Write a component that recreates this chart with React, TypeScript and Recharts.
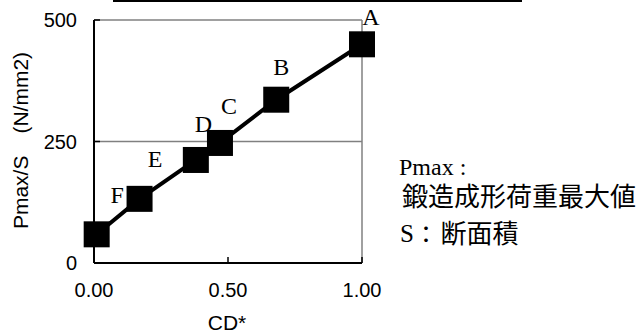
import React from "react";
import { LineChart, Line, XAxis, YAxis, CartesianGrid, ReferenceLine, LabelList } from "recharts";

// CD* (x) values
const cdValues = [0.01, 0.17, 0.38, 0.47, 0.68, 1.0];
// Pmax/S (N/mm2)
const pmaxPerS = [59, 132, 212, 247, 336, 450];
// point names
const pointNames = ["F", "E", "D", "C", "B", "A"];
const xTicks = [0, 0.5, 1];
const yTicks = [0, 250, 500];

const data = cdValues.map((cd, i) => ({ cd, value: pmaxPerS[i], name: pointNames[i] }));

// label offsets (styling)
const LABEL_SHIFT: Record<string, [number, number]> = {
  F: [20.5, -39.5],
  E: [15.5, -39.5],
  D: [7.5, -35.5],
  C: [9, -37],
  B: [5, -33],
  A: [9, -27],
};

const SANS = "'Liberation Sans', Arial, sans-serif";
const SERIF = "'Liberation Serif', 'Times New Roman', serif";
const CJK = "'Noto Sans CJK JP', 'Noto Sans CJK SC', sans-serif";

const SquareDot = (props: any) => {
  const { cx, cy, index } = props;
  if (cx == null || cy == null) return null;
  return <rect key={`sq-${index}`} x={cx - 13} y={cy - 13} width={26} height={26} fill="#000" />;
};

const renderLabel = (props: any) => {
  const { x, y, value, index } = props;
  const [dx, dy] = LABEL_SHIFT[value] || [0, 0];
  return (
    <text
      key={`lb-${index}`}
      x={x + dx}
      y={y + dy + 8}
      textAnchor="middle"
      fontFamily={SERIF}
      fontSize={24}
      fill="#000"
    >
      {value}
    </text>
  );
};

export default function App() {
  return (
    <div style={{ position: "absolute", left: 0, top: 0, width: 636, height: 334, background: "#fff" }}>
      <LineChart
        width={636}
        height={334}
        data={data}
        margin={{ top: 20, right: 274, bottom: 0, left: 0 }}
      >
        <CartesianGrid vertical={false} stroke="#808080" strokeWidth={1.5} />
        <ReferenceLine x={1} stroke="#808080" strokeWidth={1.5} />
        <XAxis
          type="number"
          dataKey="cd"
          domain={[0, 1]}
          ticks={xTicks}
          interval={0}
          tickFormatter={(v: number) => v.toFixed(2)}
          height={71}
          axisLine={{ stroke: "#000", strokeWidth: 2 }}
          tickLine={{ stroke: "#000", strokeWidth: 1.5 }}
          tickSize={-6}
          tickMargin={26}
          tick={{ fill: "#000", fontSize: 20, fontFamily: SANS }}
        />
        <YAxis
          type="number"
          domain={[0, 500]}
          ticks={yTicks}
          interval={0}
          width={94}
          axisLine={{ stroke: "#000", strokeWidth: 2 }}
          tickLine={{ stroke: "#000", strokeWidth: 1.5 }}
          tickSize={-6}
          tickMargin={23}
          tick={{ fill: "#000", fontSize: 20, fontFamily: SANS }}
        />
        <Line
          type="linear"
          dataKey="value"
          stroke="#000"
          strokeWidth={4}
          dot={<SquareDot />}
          activeDot={false}
          isAnimationActive={false}
        >
          <LabelList dataKey="name" content={renderLabel} />
        </Line>
      </LineChart>
      <svg
        width={636}
        height={334}
        style={{ position: "absolute", left: 0, top: 0, pointerEvents: "none" }}
      >
        <line x1={113} x2={522} y1={1} y2={1} stroke="#000" strokeWidth={2} />
        <text
          x={28}
          y={140.5}
          transform="rotate(-90 28 140.5)"
          textAnchor="middle"
          fontFamily={SANS}
          fontSize={21}
          fill="#000"
        >
          <tspan>Pmax/S</tspan>
          <tspan dx={22}>(N/mm2)</tspan>
        </text>
        <text x={227} y={330} textAnchor="middle" fontFamily={SANS} fontSize={21} fill="#000">
          CD*
        </text>
        <text x={399} y={175} fontFamily={SERIF} fontSize={24} fill="#000">
          Pmax :
        </text>
        <text x={402} y={206} fontFamily={CJK} fontSize={26} fill="#000">
          鍛造成形荷重最大値
        </text>
        <text x={400} y={242} fontFamily={SERIF} fontSize={25} fill="#000">
          S
        </text>
        <text x={414} y={243} fontFamily={CJK} fontSize={24} fill="#000">
          ：
        </text>
        <text x={440.5} y={243} fontFamily={CJK} fontSize={26} fill="#000">
          断面積
        </text>
      </svg>
    </div>
  );
}
